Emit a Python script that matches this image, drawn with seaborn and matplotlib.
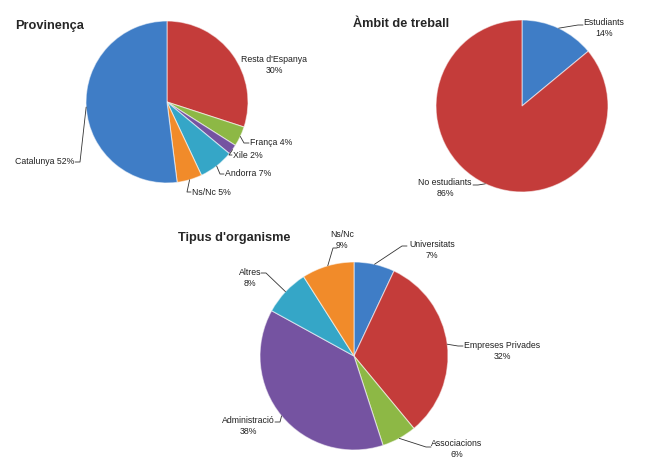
import matplotlib
matplotlib.use("Agg")
import matplotlib.pyplot as plt
import seaborn as sns
import numpy as np

# --- data ---
prov_labels = ["Resta d'Espanya", "França", "Xile", "Andorra", "Ns/Nc", "Catalunya"]
prov_values = [30, 4, 2, 7, 5, 52]
prov_sep = ["\n", " ", " ", " ", " ", " "]

ambit_labels = ["Estudiants", "No estudiants"]
ambit_values = [14, 86]

tipus_labels = ["Universitats", "Empreses Privades", "Associacions",
                "Administració", "Altres", "Ns/Nc"]
tipus_values = [7, 32, 6, 38, 8, 9]

# office-like colours
blue, red, green, purple, cyan, orange = sns.color_palette(
    ["#3F7DC6", "#C43C3A", "#8DB845", "#7553A1", "#35A6C7", "#F18B2A"])

prov_colors = [red, green, purple, cyan, orange, blue]
ambit_colors = [blue, red]
tipus_colors = [blue, red, green, purple, cyan, orange]

sns.set_theme(style="white")
plt.rcParams["font.family"] = ["Liberation Sans", "DejaVu Sans"]

W, H = 650, 474
fig = plt.figure(figsize=(6.5, 4.74), dpi=100)
ax = fig.add_axes([0, 0, 1, 1])


def Y(y):
    return H - y


def draw_pie(values, labels, colors, center, radius, texts, layout):
    wedges, _ = ax.pie(values, colors=colors, startangle=90, counterclock=False,
                       center=(center[0], Y(center[1])), radius=radius,
                       wedgeprops=dict(edgecolor=(1, 1, 1, 0.55), linewidth=0.8))
    for w, txt, (tx, ty, ha, lead) in zip(wedges, texts, layout):
        ax.text(tx, Y(ty), txt, ha=ha, va="center", fontsize=6.3,
                multialignment="center", color="#222222")
        if lead is None:
            continue
        ex, ey, dx = lead
        ang = np.deg2rad((w.theta1 + w.theta2) / 2)
        sx = w.center[0] + w.r * np.cos(ang)
        sy = w.center[1] + w.r * np.sin(ang)
        ax.plot([sx, ex, ex + dx], [sy, Y(ey), Y(ey)], color="#333333", lw=0.6)


# Provinença
prov_texts = [f"{l}{s}{v}%" for l, s, v in zip(prov_labels, prov_sep, prov_values)]
prov_layout = [
    (274, 65, "center", None),
    (250, 142, "left", (244, 143, 5)),
    (233, 155, "left", (229, 155, 3)),
    (225, 173, "left", (220, 174, 4)),
    (192, 192, "left", (187, 192, 4)),
    (74, 161, "right", (80, 162, -5)),
]
draw_pie(prov_values, prov_labels, prov_colors, (167, 102), 81, prov_texts, prov_layout)

# Àmbit de treball
ambit_texts = [f"{l}\n{v}%" for l, v in zip(ambit_labels, ambit_values)]
ambit_layout = [
    (604, 28, "center", (578, 25, 5)),
    (445, 188, "center", (478, 185, -5)),
]
draw_pie(ambit_values, ambit_labels, ambit_colors, (522, 106), 86, ambit_texts, ambit_layout)

# Tipus d'organisme
tipus_texts = [f"{l}\n{v}%" for l, v in zip(tipus_labels, tipus_values)]
tipus_layout = [
    (432, 250, "center", (402, 246, 5)),
    (502, 351, "center", (458, 346, 5)),
    (457, 449, "center", (426, 447, 5)),
    (248, 426, "center", (280, 422, -5)),
    (250, 278, "center", (266, 273, -5)),
    (342, 240, "center", (333, 248, 4)),
]
draw_pie(tipus_values, tipus_labels, tipus_colors, (354, 356), 94, tipus_texts, tipus_layout)

# titles
ax.text(15, Y(29), "Provinença", fontsize=9.2, fontweight="bold", ha="left", va="baseline")
ax.text(353, Y(27), "Àmbit de treball", fontsize=9.2, fontweight="bold", ha="left", va="baseline")
ax.text(178, Y(241), "Tipus d'organisme", fontsize=9.2, fontweight="bold", ha="left", va="baseline")

ax.set_xlim(0, W)
ax.set_ylim(0, H)
ax.set_aspect("equal")
ax.axis("off")

fig.savefig("out.png", dpi=100, facecolor="white")
